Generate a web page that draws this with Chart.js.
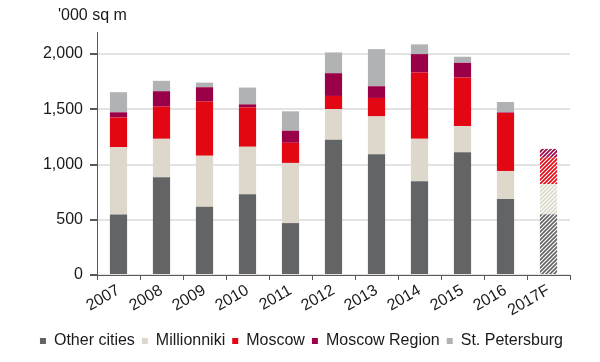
<!DOCTYPE html>
<html>
<head>
<meta charset="utf-8">
<script src="https://cdn.jsdelivr.net/npm/chart.js@4.4.0/dist/chart.umd.min.js"></script>
<style>
  html, body { margin: 0; padding: 0; background: #fff; }
  #wrap { width: 600px; height: 362px; position: relative; }
</style>
</head>
<body>
<div id="wrap"><canvas id="chart"></canvas></div>
<script>
// values in '000 sq m
let years = ['2007', '2008', '2009', '2010', '2011', '2012', '2013', '2014', '2015', '2016', '2017F'];
let otherCities = [548, 885, 618, 730, 470, 1224, 1094, 848, 1112, 688, 551];
let millionniki = [609, 348, 461, 431, 545, 279, 342, 385, 236, 254, 273];
let moscow = [270, 291, 491, 357, 182, 118, 167, 600, 440, 525, 243];
let moscowRegion = [46, 140, 130, 27, 109, 206, 106, 167, 133, 5, 75];
let stPetersburg = [182, 94, 42, 152, 176, 188, 336, 88, 55, 94, 0];
let yTicks = [0, 500, 1000, 1500, 2000];
let forecastIndex = 10;

function stripes(color) {
    let c = document.createElement('canvas');
    c.width = 4;
    c.height = 4;
    let g = c.getContext('2d');
    g.fillStyle = '#fff';
    g.fillRect(0, 0, 4, 4);
    g.strokeStyle = color;
    g.lineWidth = 1.6;
    g.beginPath();
    g.moveTo(-1, 5); g.lineTo(5, -1);
    g.moveTo(-1, 1); g.lineTo(1, -1);
    g.moveTo(3, 5); g.lineTo(5, 3);
    g.stroke();
    return g.createPattern(c, 'repeat');
}

function series(label, data, color) {
    let pat = stripes(color);
    return {
        label: label,
        data: data,
        backgroundColor: (ctx) => ctx.dataIndex === forecastIndex ? pat : color,
        borderWidth: 0,
        barPercentage: 0.4,
        categoryPercentage: 1
    };
}

let axisTitle = {
    id: 'axisTitle',
    afterDraw(chart) {
        let ctx = chart.ctx;
        ctx.save();
        ctx.font = '16px "Liberation Sans", Arial, sans-serif';
        ctx.fillStyle = '#1a1a1a';
        ctx.textBaseline = 'middle';
        ctx.fillText("'000 sq m", 58, 16);
        ctx.restore();
    }
};

Chart.defaults.font.family = '"Liberation Sans", Arial, sans-serif';
Chart.defaults.font.size = 16;
Chart.defaults.color = '#1a1a1a';

let chart = new Chart(document.getElementById('chart').getContext('2d'), {
    type: 'bar',
    data: {
        labels: years,
        datasets: [
            series('Other cities', otherCities, '#636466'),
            series('Millionniki', millionniki, '#ddd8cb'),
            series('Moscow', moscow, '#e30613'),
            series('Moscow Region', moscowRegion, '#9a0048'),
            series('St. Petersburg', stPetersburg, '#b1b2b4')
        ]
    },
    options: {
        responsive: true,
        maintainAspectRatio: false,
        animation: false,
        layout: { padding: { top: 32, right: 30, left: 0, bottom: 3 } },
        plugins: {
            legend: {
                position: 'bottom',
                align: 'end',
                labels: { boxWidth: 6, boxHeight: 6, padding: 7, color: '#1a1a1a' }
            },
            tooltip: { enabled: false }
        },
        scales: {
            x: {
                stacked: true,
                afterFit: (scale) => { scale.height = 51; },
                grid: { display: true, drawOnChartArea: false, offset: true, tickLength: 5, color: '#595959' },
                border: { color: '#595959' },
                ticks: { minRotation: 30, maxRotation: 30, padding: 1, autoSkip: false }
            },
            y: {
                stacked: true,
                min: 0,
                max: 2200,
                afterFit: (scale) => { scale.width = 97; },
                afterBuildTicks: (axis) => {
                    axis.ticks = yTicks.map(v => ({ value: v }));
                },
                grid: { color: '#e3e3e3', lineWidth: 2, tickLength: 7, tickColor: '#595959' },
                border: { color: '#595959' },
                ticks: {
                    padding: 7,
                    callback: (v) => v.toLocaleString('en-US')
                }
            }
        }
    },
    plugins: [axisTitle]
});
</script>
</body>
</html>
